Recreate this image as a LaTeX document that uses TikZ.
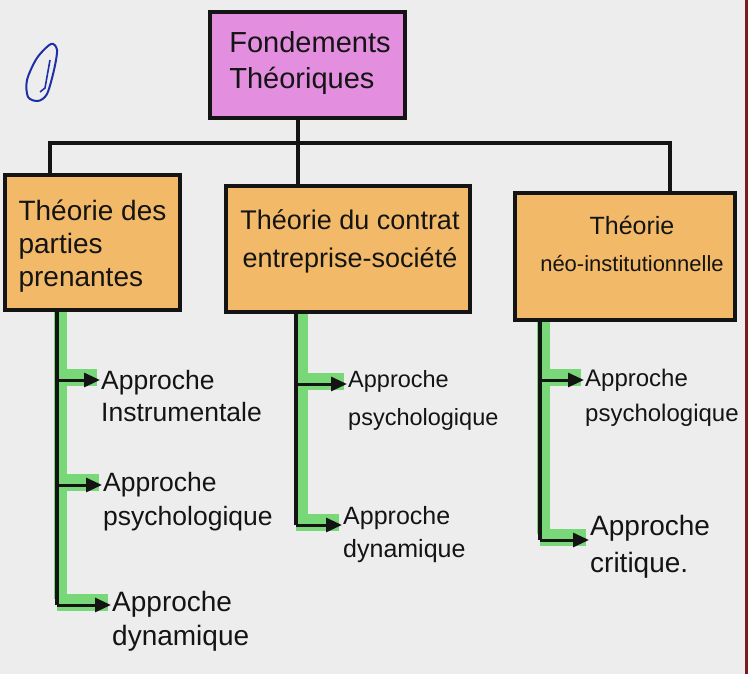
\documentclass[tikz,border=0pt]{standalone}
\usepackage{fontspec}
\setmainfont{Liberation Sans}
\usetikzlibrary{arrows.meta}
\definecolor{paper}{HTML}{EDEDED}
\definecolor{pinkbox}{HTML}{E48EE0}
\definecolor{orangebox}{HTML}{F2BA68}
\definecolor{hl}{HTML}{78D878}
\definecolor{ink}{HTML}{141414}
\definecolor{pen}{HTML}{1F2FA8}
\definecolor{edgered}{HTML}{7A1A22}
\begin{document}
\begin{tikzpicture}[x=1pt,y=-1pt,
  box/.style={draw=ink,line width=3.4pt,inner sep=0pt},
  boxtext/.style={inner sep=0pt,text=ink},
  approach/.style={anchor=west,inner sep=1pt,align=left,text=ink},
  link/.style={draw=ink,line width=3.2pt},
  arr/.style={draw=ink,line width=3pt,-{Triangle[length=16pt,width=14pt]}},
  hlstripe/.style={draw=hl,line width=13pt},
  hlstub/.style={draw=hl,line width=17pt}
]
\fill[paper] (0,0) rectangle (748,674);
\useasboundingbox (0,0) rectangle (748,674);
\draw[edgered,line width=2.5pt] (746.5,0) -- (746.5,674);

% blue pen mark
\draw[pen,line width=2pt] plot[smooth cycle] coordinates {(51,44) (57,50) (54,70) (47,94) (38,101) (28,97) (27,80) (37,58)};
\draw[pen,line width=1.6pt] (50,60) -- (45,88) -- (40,92);

% main boxes
\node[box,fill=pinkbox,minimum width=195pt,minimum height=106pt] (top) at (307.5,65) {};
\node[boxtext,align=left,font=\fontsize{29}{36}\selectfont] (toptxt) at (310,63) {Fondements\\Théoriques};
\node[box,fill=orangebox,minimum width=175pt,minimum height=135pt] (lbox) at (92.5,242.5) {};
\node[boxtext,align=left,font=\fontsize{28}{33}\selectfont] (ltxt) at (92.5,246) {Théorie des\\parties\\prenantes};
\node[box,fill=orangebox,minimum width=244pt,minimum height=126pt] (mbox) at (348,249) {};
\node[boxtext,align=center,font=\fontsize{27}{38}\selectfont] (mtxt) at (350,241) {Théorie du contrat\\entreprise-société};
\node[box,fill=orangebox,minimum width=220pt,minimum height=127pt] (rbox) at (625,256.5) {};
\node[boxtext,align=center,font=\fontsize{22}{37}\selectfont] (rtxt) at (632,244) {\fontsize{25}{37}\selectfont Théorie\\néo-institutionnelle};

% bus
\coordinate (bl) at (50,143);
\coordinate (bm) at (298,143);
\coordinate (br) at (670,143);
\draw[link] (top.south -| bm) -- (bm);
\draw[link] (lbox.north -| bl) -- (bl) -- (br) -- (rbox.north -| br);
\draw[link] (bm) -- (mbox.north -| bm);

% approach texts
\node[approach,font=\fontsize{26.5}{32}\selectfont] (l1) at (100,396) {Approche\\Instrumentale};
\node[approach,font=\fontsize{26.5}{34}\selectfont] (l2) at (102,502) {Approche\\psychologique};
\node[approach,font=\fontsize{28}{34}\selectfont] (l3) at (111,621) {Approche\\dynamique};
\node[approach,font=\fontsize{23.5}{38}\selectfont] (m1) at (347,400) {Approche\\psychologique};
\node[approach,font=\fontsize{25}{33}\selectfont] (m2) at (342,535) {Approche\\dynamique};
\node[approach,font=\fontsize{24}{35}\selectfont] (r1) at (584,398) {Approche\\psychologique};
\node[approach,font=\fontsize{28}{37}\selectfont] (r2) at (589,547) {Approche\\critique.};

% trunk coordinates
\coordinate (la1) at (57,380);
\coordinate (la2) at (57,485);
\coordinate (la3) at (57,605);
\coordinate (ma1) at (296,384);
\coordinate (ma2) at (296,525);
\coordinate (ra1) at (540,380);
\coordinate (ra2) at (540,540);

% green highlights
\draw[hlstripe] ([xshift=3pt]lbox.south -| la1) -- ([xshift=3pt,yshift=6pt]la3);
\draw[hlstripe] ([xshift=5pt]mbox.south -| ma1) -- ([xshift=5pt,yshift=6pt]ma2);
\draw[hlstripe] ([xshift=3pt]rbox.south -| ra1) -- ([xshift=3pt,yshift=6pt]ra2);
\foreach \c/\t in {la1/l1,la2/l2,la3/l3,ma1/m1,ma2/m2,ra1/r1,ra2/r2}{
  \draw[hlstub] ([yshift=3pt]\c) -- ([yshift=3pt,xshift=-3pt]\c -| \t.west);
}

% trunks and arrows
\draw[link] (lbox.south -| la1) -- (la3);
\draw[link] (mbox.south -| ma1) -- (ma2);
\draw[link] (rbox.south -| ra1) -- (ra2);
\draw[arr] (la1) -- (la1 -| l1.west);
\draw[arr] (la2) -- (la2 -| l2.west);
\draw[arr] (la3) -- (la3 -| l3.west);
\draw[arr] (ma1) -- (ma1 -| m1.west);
\draw[arr] (ma2) -- (ma2 -| m2.west);
\draw[arr] (ra1) -- (ra1 -| r1.west);
\draw[arr] (ra2) -- (ra2 -| r2.west);
\end{tikzpicture}
\end{document}
